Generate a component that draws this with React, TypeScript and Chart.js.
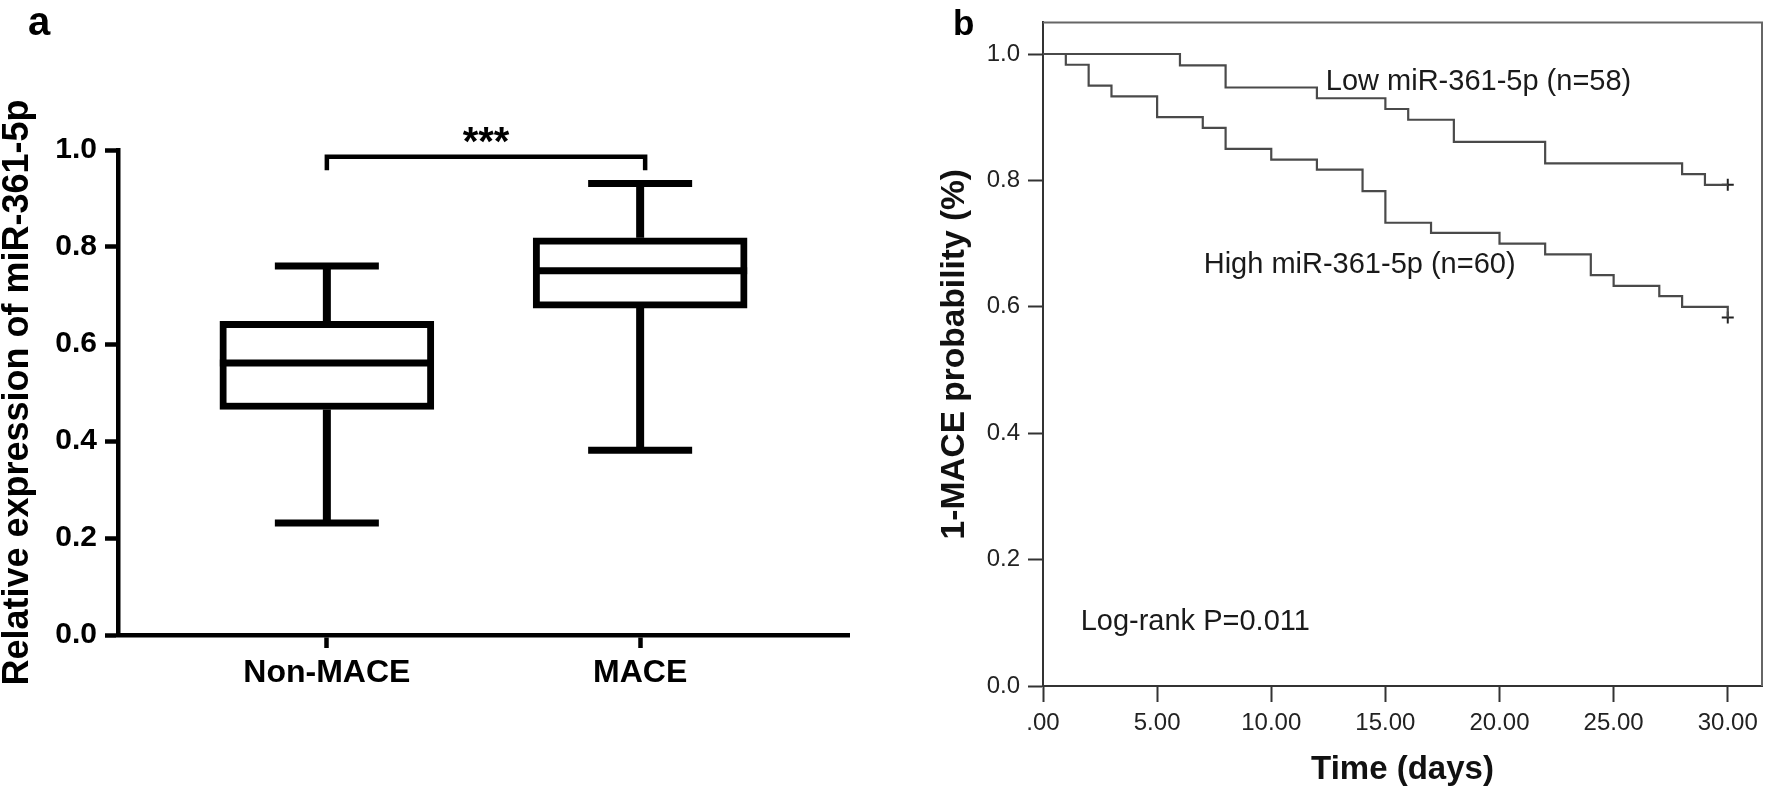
import React, { useEffect, useRef } from 'react';
import { Chart, registerables } from 'chart.js';

Chart.register(...registerables);

const FONT = '"Liberation Sans", Arial, Helvetica, sans-serif';

// ---------- Panel a: box plot ----------
const groups = ['Non-MACE', 'MACE'];
const boxLower = [0.465, 0.674];
const boxUpper = [0.647, 0.819];
const medians = [0.561, 0.751];
const whiskerMin = [0.231, 0.381];
const whiskerMax = [0.761, 0.931];
const yTicksA = [0, 0.2, 0.4, 0.6, 0.8, 1.0];
const significance = '***';

// ---------- Panel b: Kaplan-Meier ----------
const lowTimes = [0, 6, 8, 12, 15, 16, 18, 22, 28, 29, 30];
const lowSurv = [1, 0.982, 0.947, 0.93, 0.913, 0.896, 0.861, 0.827, 0.81, 0.793, 0.793];
const highTimes = [0, 1, 2, 3, 5, 7, 8, 10, 12, 14, 15, 17, 20, 22, 24, 25, 27, 28, 30];
const highSurv = [1, 0.983, 0.95, 0.933, 0.9, 0.883, 0.85, 0.833, 0.817, 0.783, 0.733, 0.717, 0.7, 0.683, 0.65, 0.633, 0.617, 0.6, 0.583];
const censorTimes = [30, 30];
const censorSurv = [0.793, 0.583];
const xTicksB = [0, 5, 10, 15, 20, 25, 30];
const yTicksB = [0, 0.2, 0.4, 0.6, 0.8, 1.0];
const lowLabel = 'Low miR-361-5p (n=58)';
const highLabel = 'High miR-361-5p (n=60)';
const pLabel = 'Log-rank P=0.011';

const boxPlugin = {
  id: 'boxExtras',
  afterDatasetsDraw(chart: any) {
    const { ctx } = chart;
    const x = chart.scales.x;
    const y = chart.scales.y;
    const meta = chart.getDatasetMeta(0);
    ctx.save();
    ctx.strokeStyle = '#000';
    ctx.lineCap = 'butt';
    const line = (x1: number, y1: number, x2: number, y2: number, w: number) => {
      ctx.lineWidth = w;
      ctx.beginPath();
      ctx.moveTo(x1, y1);
      ctx.lineTo(x2, y2);
      ctx.stroke();
    };
    groups.forEach((_, i) => {
      const cx = x.getPixelForValue(i + 1);
      const bar = meta.data[i];
      const half = bar.width / 2;
      const capHalf = 52;
      // median
      line(cx - half, y.getPixelForValue(medians[i]), cx + half, y.getPixelForValue(medians[i]), 7);
      // whiskers
      line(cx, y.getPixelForValue(boxUpper[i]), cx, y.getPixelForValue(whiskerMax[i]), 8);
      line(cx, y.getPixelForValue(boxLower[i]), cx, y.getPixelForValue(whiskerMin[i]), 8);
      line(cx - capHalf, y.getPixelForValue(whiskerMax[i]), cx + capHalf, y.getPixelForValue(whiskerMax[i]), 7);
      line(cx - capHalf, y.getPixelForValue(whiskerMin[i]), cx + capHalf, y.getPixelForValue(whiskerMin[i]), 7);
    });
    // significance bracket
    const x1 = x.getPixelForValue(1);
    const x2 = x.getPixelForValue(2) + 5;
    const yTop = y.getPixelForValue(0.986);
    const yLeg = y.getPixelForValue(0.958);
    ctx.lineWidth = 4.5;
    ctx.lineJoin = 'miter';
    ctx.beginPath();
    ctx.moveTo(x1, yLeg);
    ctx.lineTo(x1, yTop);
    ctx.lineTo(x2, yTop);
    ctx.lineTo(x2, yLeg);
    ctx.stroke();
    ctx.fillStyle = '#000';
    ctx.font = `bold 40px ${FONT}`;
    ctx.textAlign = 'center';
    ctx.textBaseline = 'alphabetic';
    ctx.fillText(significance, (x1 + x2) / 2, y.getPixelForValue(0.99));
    // panel letter
    ctx.font = `bold 40px ${FONT}`;
    ctx.textAlign = 'left';
    ctx.fillText('a', 28, 35);
    ctx.restore();
  },
};

const kmPlugin = {
  id: 'kmExtras',
  afterDraw(chart: any) {
    const { ctx, chartArea } = chart;
    const x = chart.scales.x;
    const y = chart.scales.y;
    ctx.save();
    // frame top/right
    ctx.strokeStyle = '#666';
    ctx.lineWidth = 2;
    ctx.beginPath();
    ctx.moveTo(chartArea.left, chartArea.top);
    ctx.lineTo(chartArea.right, chartArea.top);
    ctx.lineTo(chartArea.right, chartArea.bottom);
    ctx.stroke();
    // annotations
    ctx.fillStyle = '#1a1a1a';
    ctx.font = `29px ${FONT}`;
    ctx.textAlign = 'left';
    ctx.textBaseline = 'middle';
    ctx.fillText(lowLabel, x.getPixelForValue(12.39), y.getPixelForValue(0.955));
    ctx.fillText(highLabel, x.getPixelForValue(7.04), y.getPixelForValue(0.666));
    ctx.fillText(pLabel, x.getPixelForValue(1.65), y.getPixelForValue(0.101));
    // panel letter
    ctx.fillStyle = '#000';
    ctx.font = `bold 35px ${FONT}`;
    ctx.textBaseline = 'alphabetic';
    ctx.fillText('b', 73, 35);
    ctx.restore();
  },
};

export default function App() {
  const refA = useRef<HTMLCanvasElement>(null);
  const refB = useRef<HTMLCanvasElement>(null);

  useEffect(() => {
    const chartA = new Chart(refA.current as HTMLCanvasElement, {
      type: 'bar',
      data: {
        datasets: [
          {
            data: groups.map((_, i) => ({ x: i + 1, y: [boxLower[i], boxUpper[i]] })) as any,
            backgroundColor: '#fff',
            borderColor: '#000',
            borderWidth: 7,
            borderSkipped: false,
            barThickness: 214,
          },
        ],
      },
      options: {
        responsive: false,
        animation: false,
        layout: { padding: { top: 150, right: 31, left: 0, bottom: 0 } },
        plugins: { legend: { display: false }, tooltip: { enabled: false } },
        scales: {
          x: {
            type: 'linear',
            offset: false,
            min: 1 / 3,
            max: 8 / 3,
            afterBuildTicks: (s: any) => {
              s.ticks = groups.map((_, i) => ({ value: i + 1 }));
            },
            afterFit: (s: any) => {
              s.height = 156;
            },
            ticks: {
              callback: (v: any) => groups[Math.round(Number(v)) - 1] ?? '',
              font: { family: FONT, size: 32, weight: 'bold' },
              color: '#000',
              padding: 6,
              maxRotation: 0,
              autoSkip: false,
            },
            grid: { offset: false, drawOnChartArea: false, drawTicks: true, tickLength: 13, tickWidth: 4.5, tickColor: '#000' },
            border: { display: true, color: '#000', width: 4.5 },
          },
          y: {
            min: 0,
            max: 1,
            afterBuildTicks: (s: any) => {
              s.ticks = yTicksA.map((v) => ({ value: v }));
            },
            afterFit: (s: any) => {
              s.width = 118;
            },
            ticks: {
              callback: (v: any) => Number(v).toFixed(1),
              font: { family: FONT, size: 30, weight: 'bold' },
              color: '#000',
              padding: 8,
            },
            grid: { drawOnChartArea: false, drawTicks: true, tickLength: 13, tickWidth: 4.5, tickColor: '#000' },
            border: { display: true, color: '#000', width: 4.5 },
            title: {
              display: true,
              text: 'Relative expression of miR-361-5p',
              font: { family: FONT, size: 36, weight: 'bold', lineHeight: 1 },
              color: '#000',
              padding: 0,
            },
          },
        },
      } as any,
      plugins: [boxPlugin],
    });

    const chartB = new Chart(refB.current as HTMLCanvasElement, {
      type: 'line',
      data: {
        datasets: [
          {
            data: lowTimes.map((t, i) => ({ x: t, y: lowSurv[i] })),
            stepped: true,
            borderColor: '#4a4a4a',
            borderWidth: 2.2,
            pointRadius: 0,
            fill: false,
          },
          {
            data: highTimes.map((t, i) => ({ x: t, y: highSurv[i] })),
            stepped: true,
            borderColor: '#4a4a4a',
            borderWidth: 2.2,
            pointRadius: 0,
            fill: false,
          },
          {
            data: censorTimes.map((t, i) => ({ x: t, y: censorSurv[i] })),
            showLine: false,
            pointStyle: 'cross',
            pointRadius: 6,
            pointBorderWidth: 2,
            pointBorderColor: '#222',
            borderColor: '#222',
          },
        ],
      },
      options: {
        responsive: false,
        animation: false,
        layout: { padding: { top: 1.5, right: 3, left: 0, bottom: 0 } },
        plugins: { legend: { display: false }, tooltip: { enabled: false } },
        scales: {
          x: {
            type: 'linear',
            min: 0,
            max: 31.5,
            afterBuildTicks: (s: any) => {
              s.ticks = xTicksB.map((v) => ({ value: v }));
            },
            afterFit: (s: any) => {
              s.height = 105;
            },
            ticks: {
              callback: (v: any) => (Number(v) === 0 ? '.00' : Number(v).toFixed(2)),
              font: { family: FONT, size: 24 },
              color: '#222',
              padding: 7,
              maxRotation: 0,
              autoSkip: false,
            },
            grid: { drawOnChartArea: false, drawTicks: true, tickLength: 16, tickWidth: 2, tickColor: '#333' },
            border: { display: true, color: '#333', width: 2 },
            title: {
              display: true,
              text: 'Time (days)',
              font: { family: FONT, size: 33, weight: 'bold', lineHeight: 1 },
              color: '#111',
              padding: { top: 0, bottom: 4.5 },
            },
          },
          y: {
            min: 0,
            max: 1.05,
            afterBuildTicks: (s: any) => {
              s.ticks = yTicksB.map((v) => ({ value: v }));
            },
            afterFit: (s: any) => {
              s.width = 163;
            },
            ticks: {
              callback: (v: any) => Number(v).toFixed(1),
              font: { family: FONT, size: 24 },
              color: '#222',
              padding: 8,
            },
            grid: { drawOnChartArea: false, drawTicks: true, tickLength: 15, tickWidth: 2, tickColor: '#333' },
            border: { display: true, color: '#333', width: 2 },
            title: {
              display: true,
              text: '1-MACE probability (%)',
              font: { family: FONT, size: 33.5, weight: 'bold', lineHeight: 1 },
              color: '#111',
              padding: { top: 58, bottom: 0 },
            },
          },
        },
      } as any,
      plugins: [kmPlugin],
    });

    return () => {
      chartA.destroy();
      chartB.destroy();
    };
  }, []);

  return (
    <div style={{ position: 'absolute', left: 0, top: 0, width: 1770, height: 791, background: '#fff', overflow: 'hidden' }}>
      <canvas ref={refA} width={880} height={791} style={{ position: 'absolute', left: 0, top: 0, width: 880, height: 791 }} />
      <canvas ref={refB} width={890} height={791} style={{ position: 'absolute', left: 880, top: 0, width: 890, height: 791 }} />
    </div>
  );
}
